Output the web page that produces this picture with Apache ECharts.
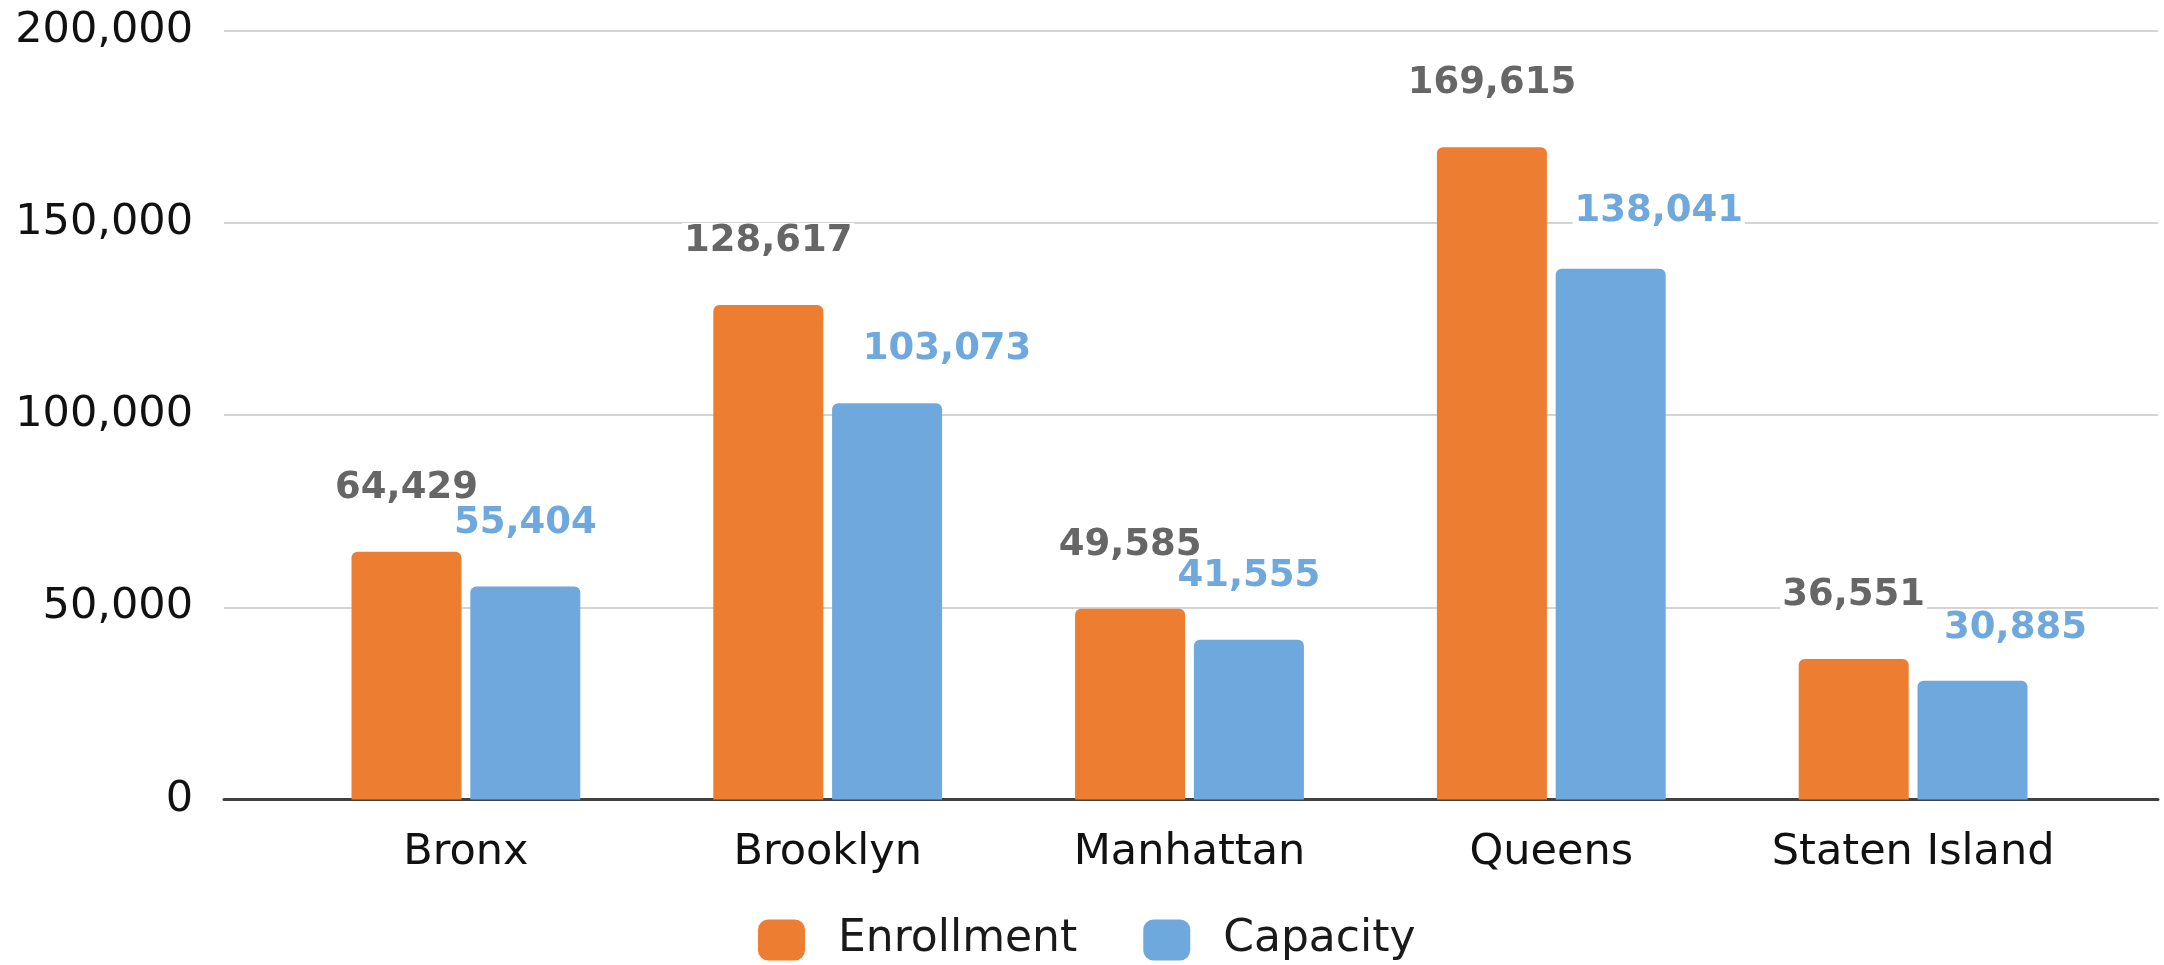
<!DOCTYPE html>
<html>
<head>
<meta charset="utf-8">
<script src="https://cdn.jsdelivr.net/npm/echarts@6/dist/echarts.min.js"></script>
<style>
  html, body { margin: 0; padding: 0; background: #fff; }
  #chart { width: 2164px; height: 965px; }
</style>
</head>
<body>
<div id="chart"></div>
<script>
let boroughs = ['Bronx', 'Brooklyn', 'Manhattan', 'Queens', 'Staten Island']
let enrollment = [64429, 128617, 49585, 169615, 36551]
let capacity = [55404, 103073, 41555, 138041, 30885]
let yTicks = [0, 50000, 100000, 150000, 200000]

let font = 'DejaVu Sans'
let chart = echarts.init(document.getElementById('chart'))

// some capacity labels were nudged right/down in the original
let capLabelOffset = [[0, 0], [60, 10], [0, 0], [48, 6], [43, 11]]

function fmt(v) {
  return Number(v).toLocaleString('en-US')
}

let barLabel = function (color) {
  return {
    show: true,
    position: 'top',
    distance: 45,
    fontFamily: font,
    fontWeight: 'bold',
    fontSize: 37,
    color: color,
    backgroundColor: '#fff',
    padding: [0, 2],
    formatter: function (p) { return fmt(p.value) }
  }
}

let capData = capacity.map(function (v, i) {
  return { value: v, label: { offset: capLabelOffset[i] } }
})

let option = {
  animation: false,
  backgroundColor: '#fff',
  textStyle: { fontFamily: font },
  // wide grid: gridlines, y labels and the base line
  // narrow grid: the bars and category labels
  grid: [
    { left: 224, right: 6, top: 30.5, bottom: 165.5 },
    { left: 285, right: 70, top: 30.5, bottom: 165.5 }
  ],
  legend: {
    data: ['Enrollment', 'Capacity'],
    left: 753,
    top: 913,
    icon: 'roundRect',
    itemWidth: 47,
    itemHeight: 41,
    itemGap: 66,
    textStyle: {
      fontFamily: font,
      fontSize: 44,
      color: '#1a1a1a',
      padding: [0, 0, 0, 28]
    }
  },
  xAxis: [
    {
      gridIndex: 0,
      type: 'value',
      min: 0,
      max: 1,
      axisLine: { show: true, onZero: false, lineStyle: { color: '#404040', width: 3 } },
      axisTick: { show: false },
      axisLabel: { show: false },
      splitLine: { show: false }
    },
    {
      gridIndex: 1,
      type: 'category',
      data: boroughs,
      axisLine: { show: false },
      axisTick: { show: false },
      axisLabel: {
        interval: 0,
        margin: 32,
        fontFamily: font,
        fontSize: 43,
        color: '#111'
      }
    }
  ],
  yAxis: [
    {
      gridIndex: 0,
      type: 'value',
      min: yTicks[0],
      max: yTicks[yTicks.length - 1],
      interval: yTicks[1] - yTicks[0],
      axisLine: { show: false },
      axisTick: { show: false },
      axisLabel: {
        margin: 31,
        fontFamily: font,
        fontSize: 43,
        color: '#111',
        formatter: function (v) { return fmt(v) }
      },
      splitLine: { lineStyle: { color: '#d4d4d4', width: 2 } }
    },
    {
      gridIndex: 1,
      type: 'value',
      min: yTicks[0],
      max: yTicks[yTicks.length - 1],
      show: false,
      splitLine: { show: false }
    }
  ],
  series: [
    {
      name: 'Enrollment',
      type: 'bar',
      xAxisIndex: 1,
      yAxisIndex: 1,
      data: enrollment,
      barWidth: 110,
      barGap: '8%',
      itemStyle: { color: '#ED7D31', borderRadius: [6, 6, 0, 0] },
      label: barLabel('#666666')
    },
    {
      name: 'Capacity',
      type: 'bar',
      xAxisIndex: 1,
      yAxisIndex: 1,
      data: capData,
      barWidth: 110,
      itemStyle: { color: '#6FA8DC', borderRadius: [6, 6, 0, 0] },
      label: barLabel('#6FA8DC')
    }
  ]
}
chart.setOption(option)
</script>
</body>
</html>
